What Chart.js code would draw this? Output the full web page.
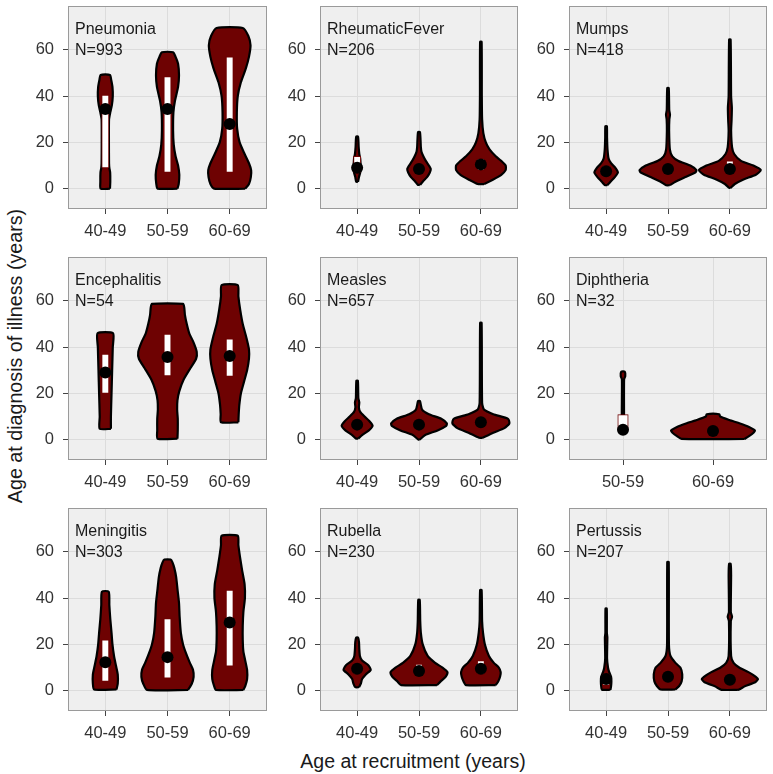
<!DOCTYPE html>
<html><head><meta charset="utf-8">
<script src="https://cdn.jsdelivr.net/npm/chart.js@4/dist/chart.umd.min.js"></script>
<style>
html,body{margin:0;padding:0;background:#fff;}
body{width:773px;height:774px;overflow:hidden;position:relative;font-family:'Liberation Sans',Arial,sans-serif;}
canvas{position:absolute;}
#xtitle{position:absolute;left:113px;width:600px;top:750px;text-align:center;white-space:nowrap;font-size:19.5px;color:#1a1a1a;}
#ytitle{position:absolute;left:15px;top:356px;transform:translate(-50%,-50%) rotate(-90deg);white-space:nowrap;font-size:19.7px;color:#1a1a1a;}
</style></head><body>
<div id="xtitle">Age at recruitment (years)</div>
<div id="ytitle">Age at diagnosis of illness (years)</div>
<script>
// ---------------- data ----------------
const ageGroups = ["40-49", "50-59", "60-69"];
const diphtheriaGroups = ["50-59", "60-69"];
const yTickValues = [0, 20, 40, 60];

const diseaseNames = ["Pneumonia", "RheumaticFever", "Mumps", "Encephalitis", "Measles", "Diphtheria", "Meningitis", "Rubella", "Pertussis"];
const diseaseCounts = [993, 206, 418, 54, 657, 32, 303, 230, 207];

// violin profiles: [age at diagnosis, half width (in category units)] from bottom to top
const pneumoniaViolins = [
  [[0,0.075],[3,0.08],[7,0.078],[9,0.065],[11,0.06],[20,0.058],[30,0.06],[33,0.08],[36,0.105],[40,0.12],[44,0.115],[47,0.095],[49.2,0.075]],
  [[0,0.16],[2,0.18],[6,0.19],[10,0.17],[14,0.13],[19,0.1],[25,0.09],[33,0.095],[38,0.12],[44,0.17],[49,0.185],[54,0.17],[57,0.13],[59,0.09]],
  [[0,0.25],[2,0.31],[5,0.34],[8,0.345],[11,0.31],[15,0.24],[20,0.16],[26,0.12],[33,0.115],[40,0.13],[46,0.18],[52,0.26],[57,0.31],[62,0.335],[66,0.3],[69.5,0.21]]
];
const pneumoniaMedians = [34.5, 34.5, 28];
const pneumoniaBoxes = [[9, 40.5], [7, 48.5], [7, 57]];

const rheumaticViolins = [
  [[3,0.015],[5,0.03],[7,0.05],[9,0.06],[11,0.055],[13,0.05],[15,0.035],[18,0.025],[22.5,0.015]],
  [[1.7,0.02],[3,0.06],[5,0.13],[7,0.175],[8.5,0.19],[10,0.16],[12,0.11],[14,0.07],[16,0.04],[18,0.03],[21,0.025],[24.5,0.015]],
  [[2,0.05],[4,0.2],[6,0.33],[8,0.4],[10,0.4],[12,0.33],[14,0.24],[17,0.14],[20,0.08],[24,0.04],[30,0.02],[40,0.015],[63.5,0.012]]
];
const rheumaticMedians = [9, 8.5, 10.5];
const rheumaticBoxes = [[7, 14], [7, 11], [8, 13]];

const mumpsViolins = [
  [[1.5,0.02],[3,0.07],[5,0.14],[7,0.19],[9,0.15],[11,0.08],[13,0.04],[17,0.022],[22,0.015],[27,0.012]],
  [[1.5,0.03],[3,0.12],[5,0.28],[7,0.44],[8,0.46],[10,0.36],[12,0.17],[14,0.07],[17,0.03],[25,0.018],[30,0.022],[32,0.032],[34,0.02],[43.5,0.012]],
  [[0.3,0.01],[2,0.08],[4,0.22],[6,0.42],[8,0.5],[10,0.38],[12,0.18],[15,0.07],[18,0.035],[25,0.02],[30,0.028],[35,0.032],[40,0.02],[64.5,0.012]]
];
const mumpsMedians = [7.5, 8.5, 8.5];
const mumpsBoxes = [[7, 10], [7, 10], [8, 12]];

const encephalitisViolins = [
  [[4.7,0.09],[10,0.09],[20,0.1],[30,0.11],[40,0.12],[46,0.125]],
  [[0.4,0.16],[4,0.165],[9,0.165],[13,0.155],[17,0.16],[21,0.19],[26,0.26],[31,0.37],[35,0.46],[38,0.47],[42,0.42],[46,0.35],[50,0.31],[54,0.28],[57,0.27],[58.7,0.25]],
  [[7.5,0.14],[11,0.145],[15,0.155],[20,0.18],[25,0.23],[30,0.28],[35,0.31],[39,0.31],[44,0.27],[50,0.21],[56,0.17],[62,0.14],[66.8,0.13]]
];
const encephalitisMedians = [29, 35.7, 36.2];
const encephalitisBoxes = [[20, 37], [27.6, 45.7], [27.3, 43.6]];

const measlesViolins = [
  [[0.5,0.02],[2,0.08],[4,0.19],[6,0.25],[8,0.2],[10,0.12],[12,0.05],[14,0.028],[16,0.035],[18,0.02],[25.5,0.012]],
  [[0,0.01],[2,0.1],[4,0.3],[6,0.44],[7,0.45],[9,0.36],[11,0.16],[13,0.05],[16.7,0.015]],
  [[0.8,0.03],[3,0.2],[5,0.38],[7,0.46],[9,0.44],[11,0.2],[13,0.05],[16,0.02],[50.5,0.012]]
];
const measlesMedians = [6.5, 6.5, 7.5];
const measlesBoxes = [null, null, null];

const diphtheriaViolins = [
  [[4,0.012],[26,0.012],[27.5,0.025],[29.4,0.02]],
  [[0.3,0.35],[1.5,0.4],[3,0.45],[4,0.465],[5.5,0.4],[7,0.3],[8.5,0.18],[10,0.08],[11,0.07]]
];
const diphtheriaMedians = [4.3, 3.7];
const diphtheriaBoxes = [[4, 10.8], null];

const meningitisViolins = [
  [[0.5,0.18],[3,0.2],[7,0.2],[11,0.17],[15,0.14],[20,0.115],[25,0.1],[31,0.08],[37,0.065],[42.8,0.055]],
  [[0.3,0.33],[3,0.39],[6,0.42],[9,0.41],[12,0.36],[16,0.3],[20,0.25],[25,0.215],[32,0.195],[38,0.185],[44,0.16],[49,0.14],[53,0.11],[55.5,0.08],[56.7,0.05]],
  [[0.3,0.22],[2,0.25],[5,0.28],[9,0.28],[13,0.25],[17,0.22],[22,0.21],[28,0.21],[34,0.22],[40,0.245],[46,0.24],[52,0.2],[58,0.165],[63,0.14],[67,0.13]]
];
const meningitisMedians = [12.3, 14.5, 29.5];
const meningitisBoxes = [[4, 22], [5.4, 31.2], [10.6, 43.5]];

const rubellaViolins = [
  [[1.5,0.03],[3,0.06],[5,0.08],[7,0.14],[9,0.22],[11,0.18],[13,0.08],[15,0.045],[18,0.035],[21,0.03],[23,0.015]],
  [[2.4,0.29],[4,0.35],[6,0.43],[8,0.46],[10,0.38],[12,0.26],[15,0.14],[20,0.06],[25,0.03],[30,0.02],[39.3,0.012]],
  [[2.4,0.24],[4,0.28],[6,0.31],[8,0.32],[10,0.29],[12,0.21],[15,0.13],[20,0.065],[25,0.035],[30,0.02],[43.5,0.012]]
];
const rubellaMedians = [9.5, 8.5, 9.5];
const rubellaBoxes = [[7, 11], [7.5, 11.5], [7, 13]];

const pertussisViolins = [
  [[0.4,0.07],[2,0.08],[4,0.085],[6,0.08],[8,0.05],[10,0.03],[14,0.015],[23,0.02],[25,0.012],[35.5,0.01]],
  [[0.5,0.12],[2,0.18],[4,0.22],[7,0.23],[10,0.2],[12,0.12],[15,0.04],[20,0.015],[55.6,0.012]],
  [[0.3,0.12],[0.5,0.15],[2,0.25],[3.5,0.4],[5,0.455],[6,0.42],[8,0.3],[10,0.15],[12,0.06],[15,0.02],[30,0.015],[32,0.035],[34,0.015],[50,0.02],[54.9,0.012]]
];
const pertussisMedians = [5, 6, 4.7];
const pertussisBoxes = [[2.3, 7.2], null, null];

// ---------------- layout / style ----------------
const COL_LEFT = [68, 320, 569];
const COL_W = [202, 201, 201];
const ROW_TOP = [2, 253, 504];
const PANEL_H = 207;
const AX_W = 62, AX_H = 45, PAD_T = 2, PAD_R = 3;
const FILL = '#6e0202';
const PANEL_BG = '#efefef';
const GRID = '#dcdcdc';
const TEXT = '#333333';
const FONT = "'Liberation Sans', Arial, sans-serif";

const panels = [
  [pneumoniaViolins, pneumoniaMedians, pneumoniaBoxes, ageGroups],
  [rheumaticViolins, rheumaticMedians, rheumaticBoxes, ageGroups],
  [mumpsViolins, mumpsMedians, mumpsBoxes, ageGroups],
  [encephalitisViolins, encephalitisMedians, encephalitisBoxes, ageGroups],
  [measlesViolins, measlesMedians, measlesBoxes, ageGroups],
  [diphtheriaViolins, diphtheriaMedians, diphtheriaBoxes, diphtheriaGroups],
  [meningitisViolins, meningitisMedians, meningitisBoxes, ageGroups],
  [rubellaViolins, rubellaMedians, rubellaBoxes, ageGroups],
  [pertussisViolins, pertussisMedians, pertussisBoxes, ageGroups]
];

const panelPlugin = {
  id: 'panelDeco',
  beforeDraw(chart) {
    const a = chart.chartArea, ctx = chart.ctx;
    ctx.save();
    ctx.fillStyle = PANEL_BG;
    ctx.fillRect(a.left, a.top, a.right - a.left, a.bottom - a.top);
    ctx.restore();
  },
  afterDraw(chart) {
    const a = chart.chartArea, ctx = chart.ctx;
    const o = chart.options.plugins.panelDeco;
    ctx.save();
    ctx.strokeStyle = '#9a9a9a';
    ctx.lineWidth = 1;
    ctx.strokeRect(a.left + 0.5, a.top + 0.5, a.right - a.left - 1, a.bottom - a.top - 1);
    ctx.fillStyle = '#1a1a1a';
    ctx.font = "16px " + FONT;
    ctx.textAlign = 'left';
    ctx.textBaseline = 'middle';
    const y = chart.scales.y;
    ctx.fillText(o.name, a.left + 7, y.getPixelForValue(68.8));
    ctx.fillText('N=' + o.n, a.left + 7, y.getPixelForValue(59.8));
    ctx.restore();
  }
};

panels.forEach((p, idx) => {
  const [violins, medians, boxes, groups] = p;
  const col = idx % 3, row = Math.floor(idx / 3);
  const pl = COL_LEFT[col], pw = COL_W[col], pt = ROW_TOP[row];
  const canvas = document.createElement('canvas');
  canvas.width = pw + AX_W + PAD_R;
  canvas.height = PANEL_H + PAD_T + AX_H;
  canvas.style.left = (pl - AX_W) + 'px';
  canvas.style.top = (pt - PAD_T) + 'px';
  document.body.appendChild(canvas);

  const xMin = 0.4, xMax = groups.length + 0.6;
  const unitPx = pw / (xMax - xMin);
  const datasets = [];
  violins.forEach((prof, i) => {
    const c = i + 1;
    const right = prof.map(([v, w]) => ({ x: c + w, y: v }));
    const left = prof.slice().reverse().map(([v, w]) => ({ x: c - w, y: v }));
    const pts = right.concat(left);
    pts.push({ x: pts[0].x, y: pts[0].y });
    datasets.push({
      type: 'line', data: pts, borderColor: '#000', borderWidth: 2.2,
      backgroundColor: FILL, fill: 'shape', pointRadius: 0, tension: 0.2,
      borderJoinStyle: 'round', order: 3
    });
  });
  const boxData = [];
  boxes.forEach((b, i) => { if (b) boxData.push({ x: i + 1, y: b }); });
  datasets.push({
    type: 'bar', data: boxData, backgroundColor: '#ffffff', borderColor: FILL,
    borderWidth: 1, borderSkipped: false, barThickness: unitPx * 0.115, grouped: false, order: 2
  });
  datasets.push({
    type: 'scatter', data: medians.map((m, i) => ({ x: i + 1, y: m })),
    pointRadius: 6, backgroundColor: '#000', borderWidth: 0, order: 1
  });

  new Chart(canvas, {
    type: 'line',
    data: { datasets },
    plugins: [panelPlugin],
    options: {
      responsive: false, animation: false, devicePixelRatio: 1,
      layout: { padding: { left: 0, top: PAD_T, right: PAD_R, bottom: 0 } },
      plugins: {
        legend: { display: false }, tooltip: { enabled: false },
        panelDeco: { name: diseaseNames[idx], n: diseaseCounts[idx] }
      },
      scales: {
        x: {
          type: 'linear', min: xMin, max: xMax, offset: false,
          afterBuildTicks: s => { s.ticks = groups.map((g, i) => ({ value: i + 1 })); },
          afterFit: s => { s.height = AX_H; s.paddingLeft = 0; s.paddingRight = 0; },
          ticks: {
            callback: v => groups[Math.round(v) - 1] || '', autoSkip: false, maxRotation: 0,
            color: TEXT, font: { family: FONT, size: 16.5 }, padding: 8
          },
          grid: { offset: false, color: GRID, lineWidth: 1, tickLength: 5, tickColor: '#444', tickWidth: 1 },
          border: { display: false }
        },
        y: {
          type: 'linear', min: -8.8, max: 79,
          afterBuildTicks: s => { s.ticks = yTickValues.map(v => ({ value: v })); },
          afterFit: s => { s.width = AX_W; s.paddingTop = 0; s.paddingBottom = 0; },
          ticks: { color: TEXT, font: { family: FONT, size: 16.5 }, padding: 9 },
          grid: { offset: false, color: GRID, lineWidth: 1, tickLength: 5, tickColor: '#444', tickWidth: 1 },
          border: { display: false }
        }
      }
    }
  });
});
</script>
</body></html>
